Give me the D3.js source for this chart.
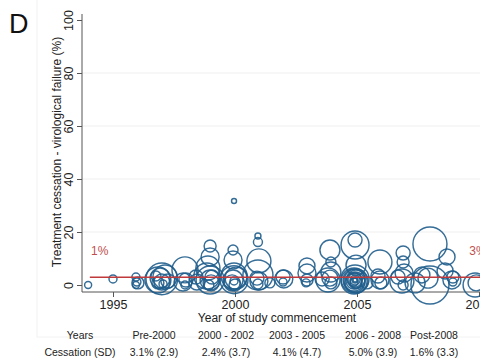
<!DOCTYPE html>
<html><head><meta charset="utf-8">
<script src="https://cdn.jsdelivr.net/npm/d3@7"></script>
<style>body{margin:0;background:#fff}svg{display:block}text{font-family:"Liberation Sans",Arial,sans-serif}</style>
</head><body>
<script>
// Bubble data: year of study commencement, cessation %, study size
const years = [1993.98,1995.0,1995.94,1995.98,1995.94,1996.02,
 1996.84,1996.93,1997.0,1996.84,1997.13,1997.05,1996.76,1997.25,1997.0,
 1997.95,1997.99,1997.95,1997.87,
 1998.98,1998.98,1998.89,1998.98,1999.02,1998.93,1999.06,1998.85,1998.44,1998.98,1998.4,
 1999.92,1999.92,1999.96,1999.92,1999.88,2000.0,1999.96,2000.04,1999.96,1999.96,
 2000.94,2000.94,2000.98,2000.94,2000.98,2000.94,2000.9,
 2001.97,2001.97,2002.0,2001.43,
 2002.95,2002.95,2002.95,2002.91,
 2003.89,2003.93,2003.93,2003.89,2003.93,2003.81,2003.57,
 2004.92,2004.92,2004.96,
 2004.92,2004.96,2004.88,2004.92,2004.96,2004.88,2004.92,2004.96,2004.92,2004.88,2004.92,2004.88,2004.92,
 2005.41,
 2005.94,2005.94,2005.98,2005.86,
 2006.89,2006.89,2006.93,2006.84,2006.89,2006.68,
 2007.99,2007.99,2007.91,2007.66,2007.38,
 2008.93,2008.93,2008.89,2008.61,2008.69,
 2009.84,2009.88];
const cessation = [0,2.3,3.0,1.1,0,0.8,
 1.9,2.6,1.1,0.8,3.0,0.4,3.4,1.5,2.3,
 5.7,1.9,0,1.1,
 14.7,10.6,6.4,1.9,0.8,0,3.0,3.4,1.1,1.9,3.0,
 13.2,9.4,3.4,1.9,0.8,0,1.5,2.6,31.7,2.0,
 18.5,16.2,9.1,3.8,1.5,0.4,2.6,
 3.0,1.1,2.3,0.8,
 7.2,4.5,1.9,0.8,
 13.2,8.7,4.9,2.6,0.8,1.9,2.3,
 15.1,17.0,7.5,
 2.3,1.5,1.9,1.1,2.3,1.5,1.9,0.8,1.9,1.1,1.9,1.5,1.9,
 0.8,
 8.7,1.9,0.8,3.4,
 12.1,8.7,4.5,1.5,0,3.0,
 15.5,0,2.6,3.8,0.8,
 3.0,1.1,1.9,5.3,10.6,
 0,0.8];
const studySize = [49,64,64,64,49,144,
 676,400,256,144,576,64,100,196,1000,
 676,196,64,324,
 144,324,576,400,256,100,196,676,256,784,196,
 100,324,676,400,256,144,64,484,25,784,
 36,81,576,900,324,100,196,
 196,64,324,100,
 256,324,144,64,
 400,100,400,256,144,576,196,
 784,196,400,
 784,576,484,400,324,256,196,144,100,64,36,676,16,
 144,
 576,324,144,196,
 196,144,324,576,100,196,
 1156,1444,400,256,400,
 144,64,324,256,256,
 576,256];

const yTicks = [0,20,40,60,80,100];
const gridValues = [20,40,60,80];
const xTicks = [1995,2000,2005,2010];
const refLine = {start:1994.05, end:2011, value:2.9};
const refLabels = [{text:"1%", year:1994.1}, {text:"3%", year:2009.6}];
const tableHeaders = ["Years","Pre-2000","2000 - 2002","2003 - 2005","2006 - 2008","Post-2008"];
const tableCessation = ["Cessation (SD)","3.1% (2.9)","2.4% (3.7)","4.1% (4.7)","5.0% (3.9)","1.6% (3.3)"];

const W=480,H=358;
const svg=d3.select("body").append("svg").attr("width",W).attr("height",H);

const x=d3.scaleLinear().domain([1995,2010]).range([113,479]);
const y=d3.scaleLinear().domain([0,100]).range([285,20]);
const r=d3.scaleSqrt().domain([0,2000]).range([0,22.36]);
const axisY=292, axisX=82;

// faint graph region frame
svg.append("rect").attr("x",37).attr("y",-2).attr("width",W).attr("height",339)
  .attr("fill","none").attr("stroke","#f2f2f2");

// gridlines
svg.append("g").selectAll("line").data(gridValues).join("line")
  .attr("x1",axisX).attr("x2",W).attr("y1",d=>y(d)).attr("y2",d=>y(d))
  .attr("stroke","#efefef").attr("stroke-width",1.2);

// Y axis
const ya=svg.append("g").attr("transform",`translate(${axisX},0)`)
  .call(d3.axisLeft(y).tickValues(yTicks).tickSize(5).tickPadding(0).tickFormat(d3.format("d")));
ya.select(".domain").attr("d",`M0,14V${axisY}`).attr("stroke","#555");
ya.selectAll(".tick line").attr("stroke","#555");
ya.selectAll(".tick text").attr("transform","rotate(-90)").attr("x",0).attr("y",-9)
  .attr("dy",0).attr("text-anchor","middle").attr("font-size",12.5).attr("fill","#222")
  .style("font-family","'Liberation Sans',Arial,sans-serif");

// X axis
const xa=svg.append("g").attr("transform",`translate(0,${axisY})`)
  .call(d3.axisBottom(x).tickValues(xTicks).tickSize(5).tickPadding(3).tickFormat(d3.format("d")));
xa.select(".domain").attr("d",`M${axisX},0H${W}`).attr("stroke","#555");
xa.selectAll(".tick line").attr("stroke","#555");
xa.selectAll(".tick text").attr("font-size",12.5).attr("fill","#222")
  .style("font-family","'Liberation Sans',Arial,sans-serif");

// bubbles
const data=years.map((yr,i)=>({yr,v:cessation[i],n:studySize[i]}));
svg.append("g").selectAll("circle").data(data).join("circle")
  .attr("cx",d=>x(d.yr)).attr("cy",d=>y(d.v)).attr("r",d=>r(d.n))
  .attr("fill","none").attr("stroke","#1f5d8c").attr("stroke-width",1.45).attr("stroke-opacity",0.9);

// reference line
svg.append("line").attr("x1",x(refLine.start)).attr("x2",x(refLine.end))
  .attr("y1",y(refLine.value)).attr("y2",y(refLine.value))
  .attr("stroke","#c0393b").attr("stroke-width",1.6);
svg.append("g").selectAll("text").data(refLabels).join("text")
  .attr("x",d=>x(d.year)).attr("y",255).attr("font-size",12).attr("fill","#c0504d").text(d=>d.text);

// titles
svg.append("text").attr("transform","translate(61,152) rotate(-90)").attr("text-anchor","middle")
  .attr("font-size",12).attr("fill","#222").text("Treatment cessation - virological failure (%)");
svg.append("text").attr("x",277).attr("y",322).attr("text-anchor","middle")
  .attr("font-size",12).attr("fill","#222").text("Year of study commencement");
svg.append("text").attr("x",9).attr("y",33).attr("font-size",27).attr("fill","#111").text("D");

// table
const colX=[80,154,226,297,373,434];
svg.append("g").selectAll("text").data(tableHeaders).join("text")
  .attr("x",(d,i)=>colX[i]).attr("y",339).attr("text-anchor","middle")
  .attr("font-size",10.5).attr("fill","#222").text(d=>d);
svg.append("g").selectAll("text").data(tableCessation).join("text")
  .attr("x",(d,i)=>colX[i]).attr("y",356).attr("text-anchor","middle")
  .attr("font-size",10.5).attr("fill","#222").text(d=>d);
</script>
</body></html>
